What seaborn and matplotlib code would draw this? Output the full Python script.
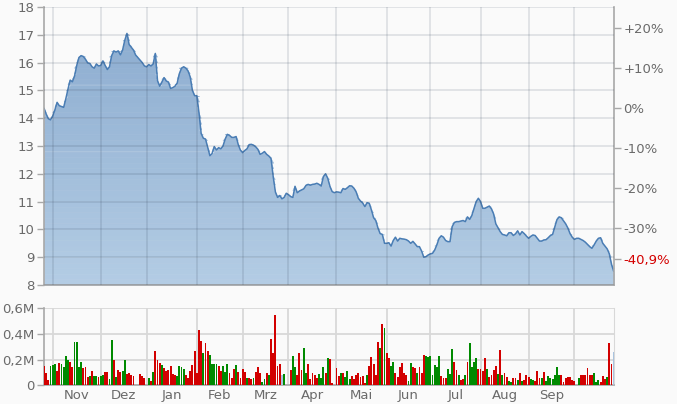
import numpy as np
import pandas as pd
import seaborn as sns
import matplotlib.pyplot as plt
from matplotlib.colors import LinearSegmentedColormap

# Handelstage Okt 2023 - Okt 2024
datum = pd.bdate_range('2023-10-26', '2024-10-25')

kurs = [14.36, 14.15, 13.98, 13.94, 14.08, 14.30, 14.57, 14.45, 14.42, 14.39,
        14.70, 15.05, 15.37, 15.31, 15.52, 15.90, 16.18, 16.25, 16.22, 16.12,
        15.99, 15.97, 15.85, 15.80, 15.95, 15.88, 15.90, 16.06, 15.90, 15.75,
        15.85, 16.25, 16.42, 16.38, 16.42, 16.28, 16.45, 16.80, 17.05, 16.65,
        16.55, 16.45, 16.27, 16.18, 16.09, 16.00, 15.88, 15.85, 15.93, 15.88,
        15.95, 16.33, 15.35, 15.15, 15.30, 15.46, 15.34, 15.30, 15.07, 15.10,
        15.15, 15.26, 15.60, 15.80, 15.85, 15.80, 15.70, 15.48, 15.00, 14.81,
        14.81, 14.20, 13.45, 13.28, 13.25, 12.95, 12.65, 12.73, 12.98, 12.86,
        12.94, 12.90, 13.00, 13.25, 13.42, 13.38, 13.31, 13.31, 13.34, 13.05,
        12.85, 12.76, 12.84, 12.90, 13.05, 13.06, 13.03, 12.97, 12.88, 12.70,
        12.74, 12.80, 12.70, 12.64, 12.55, 11.90, 11.35, 11.15, 11.22, 11.10,
        11.15, 11.30, 11.25, 11.18, 11.15, 11.55, 11.32, 11.38, 11.42, 11.46,
        11.58, 11.62, 11.59, 11.62, 11.63, 11.66, 11.62, 11.56, 11.90, 12.00,
        11.84, 11.55, 11.36, 11.32, 11.35, 11.34, 11.32, 11.47, 11.44, 11.50,
        11.57, 11.56, 11.48, 11.35, 11.12, 11.02, 10.95, 10.82, 10.96, 10.94,
        10.70, 10.42, 10.32, 10.05, 9.85, 9.82, 9.50, 9.50, 9.52, 9.40,
        9.60, 9.72, 9.58, 9.68, 9.66, 9.65, 9.63, 9.58, 9.50, 9.57,
        9.48, 9.38, 9.38, 9.22, 9.00, 9.02, 9.08, 9.12, 9.14, 9.26,
        9.45, 9.68, 9.77, 9.72, 9.60, 9.56, 9.56, 10.10, 10.25, 10.28,
        10.28, 10.30, 10.32, 10.28, 10.45, 10.36, 10.50, 10.75, 11.00, 11.12,
        11.00, 10.76, 10.76, 10.80, 10.84, 10.74, 10.55, 10.20, 10.06, 9.92,
        9.82, 9.80, 9.77, 9.88, 9.88, 9.78, 9.84, 9.95, 9.80, 9.92,
        9.85, 9.76, 9.68, 9.75, 9.80, 9.78, 9.68, 9.58, 9.58, 9.62,
        9.63, 9.70, 9.78, 9.82, 10.08, 10.35, 10.45, 10.42, 10.31, 10.20,
        10.05, 9.85, 9.72, 9.64, 9.68, 9.68, 9.64, 9.60, 9.54, 9.46,
        9.38, 9.32, 9.44, 9.58, 9.68, 9.70, 9.50, 9.40, 9.30, 9.12,
        8.74, 8.49]

# Umsatz in Mio Stueck
volumen = [0.150, 0.098, 0.045, 0.150, 0.160, 0.163, 0.111, 0.170, 0.165, 0.145,
           0.230, 0.200, 0.183, 0.145, 0.333, 0.333, 0.145, 0.178, 0.137, 0.142,
           0.065, 0.072, 0.108, 0.075, 0.075, 0.067, 0.075, 0.080, 0.106, 0.106,
           0.049, 0.351, 0.196, 0.065, 0.116, 0.106, 0.111, 0.196, 0.085, 0.093,
           0.080, 0.072, 0.0, 0.0, 0.088, 0.072, 0.054, 0.0, 0.055, 0.034,
           0.106, 0.265, 0.196, 0.170, 0.157, 0.137, 0.111, 0.116, 0.150, 0.085,
           0.080, 0.072, 0.150, 0.145, 0.124, 0.080, 0.054, 0.114, 0.157, 0.266,
           0.098, 0.428, 0.343, 0.253, 0.325, 0.266, 0.235, 0.165, 0.163, 0.163,
           0.150, 0.114, 0.150, 0.106, 0.163, 0.093, 0.059, 0.124, 0.157, 0.106,
           0.059, 0.124, 0.106, 0.059, 0.054, 0.049, 0.059, 0.101, 0.145, 0.093,
           0.028, 0.049, 0.093, 0.080, 0.359, 0.253, 0.544, 0.150, 0.163, 0.080,
           0.088, 0.0, 0.0, 0.119, 0.230, 0.145, 0.080, 0.248, 0.119, 0.292,
           0.098, 0.165, 0.049, 0.093, 0.080, 0.054, 0.085, 0.054, 0.145, 0.093,
           0.214, 0.201, 0.015, 0.0, 0.132, 0.075, 0.093, 0.098, 0.067, 0.111,
           0.049, 0.072, 0.049, 0.080, 0.098, 0.067, 0.072, 0.020, 0.080, 0.150,
           0.222, 0.163, 0.080, 0.333, 0.292, 0.472, 0.446, 0.248, 0.214, 0.150,
           0.183, 0.098, 0.067, 0.145, 0.170, 0.093, 0.080, 0.030, 0.175, 0.145,
           0.132, 0.093, 0.145, 0.093, 0.235, 0.227, 0.222, 0.227, 0.080, 0.157,
           0.139, 0.230, 0.072, 0.059, 0.059, 0.124, 0.085, 0.281, 0.178, 0.119,
           0.080, 0.041, 0.049, 0.080, 0.178, 0.325, 0.145, 0.183, 0.209, 0.124,
           0.124, 0.114, 0.209, 0.124, 0.067, 0.080, 0.119, 0.150, 0.085, 0.273,
           0.080, 0.098, 0.067, 0.034, 0.023, 0.059, 0.059, 0.041, 0.098, 0.034,
           0.041, 0.080, 0.067, 0.049, 0.041, 0.034, 0.111, 0.059, 0.054, 0.106,
           0.034, 0.075, 0.054, 0.049, 0.080, 0.145, 0.080, 0.080, 0.028, 0.059,
           0.067, 0.067, 0.041, 0.034, 0.0, 0.059, 0.080, 0.080, 0.080, 0.137,
           0.080, 0.080, 0.093, 0.028, 0.041, 0.028, 0.072, 0.049, 0.067, 0.325,
           0.163, 0.261]

# g = Plus, r = Minus, b = unveraendert
farbe = list("rrrgggrrgg" "ggrrggggrr" "rgrggrggrr" "ggrgrrggrr" "rrrrrrrrgr"
             "grrrgrrrrr" "rggggrrrrr" "rrrgrrgggg" "rrgggrrrgr" "rrrgrrgrrr"
             "ggrgrrrrrb" "grrrggrrrg" "grrrrrgggr" "grrrrrgrgg" "grrrrrrrgr"
             "rrrrgrgrrg" "grrrrrrggr" "rgrrrggggg" "ggrrrgggrr" "grrgrggggr"
             "rrrgrrrrgr" "grrggrrgrg" "rrrggrrrgr" "gggggggrrr" "rrrrrgrrrr"
             "rrgggrrrgr" "rb")

monate = ['Nov', 'Dez', 'Jan', 'Feb', 'Mrz', 'Apr', 'Mai', 'Jun', 'Jul', 'Aug', 'Sep']
kurs_ticks = [8, 9, 10, 11, 12, 13, 14, 15, 16, 17, 18]
prozent = [0.2, 0.1, 0.0, -0.1, -0.2, -0.3]
vol_ticks = [0, 0.2, 0.4, 0.6]
vol_labels = ['0', '0,2M', '0,4M', '0,6M']

df = pd.DataFrame({'tag': np.arange(len(datum)), 'datum': datum,
                   'kurs': kurs, 'vol': volumen, 'farbe': farbe})

sns.set_style('white')
plt.rcParams['font.family'] = ['DejaVu Sans']

grau_txt = '#6a6a6a'
grau_achse = '#a8a8a8'
grid_col = '#d8d8d8'
palette = {'g': '#008a00', 'r': '#d20000', 'b': '#a9c3df'}

fig = plt.figure(figsize=(6.77, 4.04), dpi=100, facecolor='#fafafa')
ax = fig.add_axes([44 / 677, 1 - 285 / 404, 569.7 / 677, 278 / 404])
axv = fig.add_axes([44 / 677, 1 - 385.3 / 404, 569.7 / 677, 77.3 / 404])
ax.patch.set_visible(False)
axv.set_facecolor('#fafafa')

# Monatsgrenzen
neu = [int(i) for i in df.index[df.datum.dt.month != df.datum.dt.month.shift()][1:]]
mitte = [(neu[i] + neu[i + 1]) / 2 for i in range(len(monate))]

ax.set_xlim(0, len(df) - 1)
ax.set_ylim(8, 18)

# Kursflaeche: Verlauf aus schmalen Baendern
verlauf = LinearSegmentedColormap.from_list('blau', ['#b3cce4', '#8dadd0'])
stufen = np.linspace(8, 17.2, 47)
k = df.kurs.to_numpy()
for j in range(len(stufen) - 1):
    y0, y1 = stufen[j], stufen[j + 1]
    c = verlauf(j / (len(stufen) - 2))
    ax.fill_between(df.tag, y0, np.clip(k, y0, y1), where=k > y0, interpolate=True,
                    color=c, ec=c, lw=0.4, zorder=1)

sns.lineplot(data=df, x='tag', y='kurs', ax=ax, color='#4a7db4', linewidth=1.1, zorder=4)

ax.set_xlim(0, len(df) - 1)
ax.set_ylim(8, 18)
ax.set_yticks(kurs_ticks)
ax.set_xticks(neu)
ax.set_xticklabels([])
ax.set_xlabel('')
ax.set_ylabel('')
ax.grid(False)
ax.tick_params(axis='y', length=5, width=1, color=grau_achse, labelcolor=grau_txt,
               labelsize=9.5, pad=2, direction='out', left=True)
ax.tick_params(axis='x', length=0)
for s in ['top', 'right']:
    ax.spines[s].set_visible(False)
for s in ['left', 'bottom']:
    ax.spines[s].set_color(grau_achse)
    ax.spines[s].set_linewidth(1.2)
    ax.spines[s].set_zorder(5)

# Prozentachse rechts
ref = kurs[0]
ende = kurs[-1] / ref - 1
ax2 = ax.twinx()
ax2.patch.set_visible(False)
ax2.set_ylim(8, 18)
pos = [ref * (1 + p) for p in prozent] + [8.94]
labs = [('+' if p > 0 else '') + f'{p * 100:.0f}%' for p in prozent]
labs.append(f'{ende * 100:.1f}%'.replace('.', ','))
ax2.set_yticks(pos)
ax2.set_yticklabels(labs)
ax2.tick_params(axis='y', length=5, width=1, color=grau_achse, labelcolor=grau_txt,
                labelsize=9.5, pad=2, right=True)
ax2.get_yticklabels()[-1].set_color('#d40000')
ax2.grid(False)
for s in ['top', 'left', 'bottom']:
    ax2.spines[s].set_visible(False)
ax2.spines['right'].set_color(grau_achse)
ax2.spines['right'].set_linewidth(1.2)

# Gitter im Kursbereich, halbtransparent ueber allem
ax2.hlines(kurs_ticks, 0, len(df) - 1, colors='#2a3a50', alpha=0.12, lw=1.4, zorder=3)
ax2.vlines(neu, 8, 18, colors='#2a3a50', alpha=0.12, lw=1.4, zorder=3)
ax2.set_xlim(0, len(df) - 1)
ax2.set_ylim(8, 18)

# Umsatz
axv.bar(df.tag, df.vol, width=0.85, color=[palette[f] for f in df.farbe], lw=0, zorder=3)
axv.set_xlim(0, len(df) - 1)
axv.set_ylim(0, 0.6)
axv.set_yticks(vol_ticks)
axv.set_yticklabels(vol_labels)
axv.set_xticks(neu)
axv.set_xticklabels([])
axv.set_xticks(mitte, minor=True)
axv.set_xticklabels(monate, minor=True)
axv.set_xlabel('')
axv.set_ylabel('')
axv.grid(True, which='major', color=grid_col, lw=1.3, zorder=1)
axv.set_axisbelow(True)
axv.tick_params(axis='y', length=5, width=1, color=grau_achse, labelcolor=grau_txt,
                labelsize=9.5, pad=2, left=True)
axv.tick_params(axis='x', which='both', length=0, labelcolor=grau_txt, labelsize=9.5, pad=3)
axv.spines['top'].set_visible(False)
axv.spines['right'].set_color(grid_col)
for s in ['left', 'bottom']:
    axv.spines[s].set_color(grau_achse)
    axv.spines[s].set_linewidth(1.2)

fig.savefig('out.png', dpi=100, facecolor=fig.get_facecolor())
